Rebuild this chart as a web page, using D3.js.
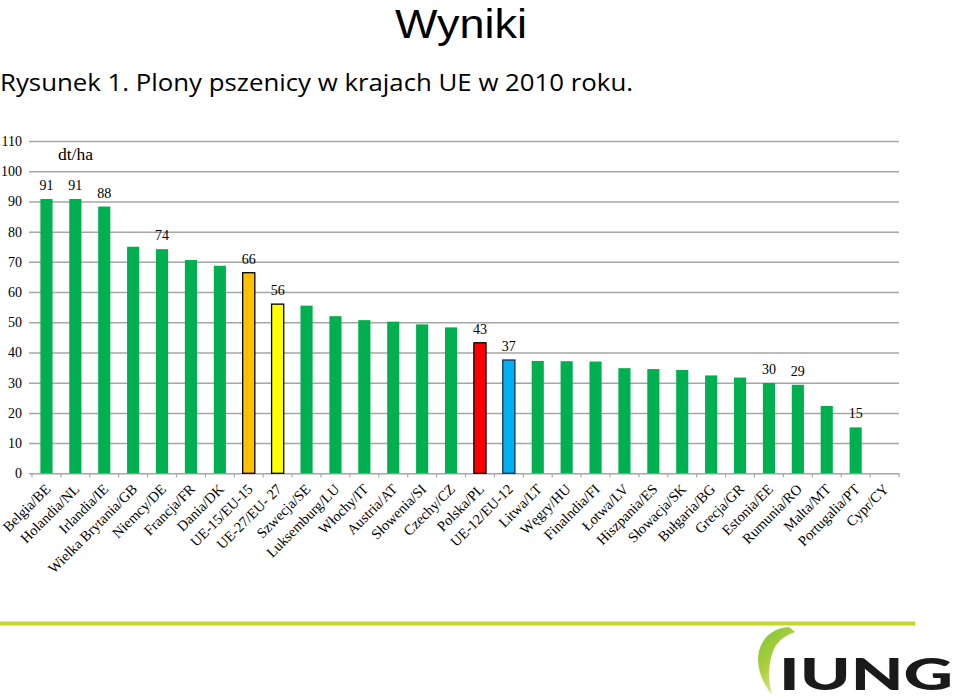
<!DOCTYPE html>
<html>
<head>
<meta charset="utf-8">
<script src="https://cdn.jsdelivr.net/npm/d3@7"></script>
<style>
  html, body { margin: 0; padding: 0; background: #ffffff; }
  svg { display: block; }
</style>
</head>
<body>
<svg id="chart" width="960" height="700"></svg>
<script>
// ---- data ----
const categories = [
  "Belgia/BE", "Holandia/NL", "Irlandia/IE", "Wielka Brytania/GB", "Niemcy/DE",
  "Francja/FR", "Dania/DK", "UE-15/EU-15", "UE-27/EU- 27", "Szwecja/SE",
  "Luksemburg/LU", "Włochy/IT", "Austria/AT", "Słowenia/SI", "Czechy/CZ",
  "Polska/PL", "UE-12/EU-12", "Litwa/LT", "Węgry/HU", "Finalndia/FI",
  "Łotwa/LV", "Hiszpania/ES", "Słowacja/SK", "Bułgaria/BG", "Grecja/GR",
  "Estonia/EE", "Rumunia/RO", "Malta/MT", "Portugalia/PT", "Cypr/CY"
];
const values = [
  90.8, 90.8, 88.3, 75.0, 74.2,
  70.6, 68.7, 66.4, 56.0, 55.5,
  52.0, 50.7, 50.2, 49.3, 48.3,
  43.2, 37.5, 37.2, 37.1, 37.0,
  34.8, 34.5, 34.2, 32.4, 31.7,
  29.9, 29.3, 22.3, 15.2, null
];
const valueLabels = [
  "91", "91", "88", "", "74",
  "", "", "66", "56", "",
  "", "", "", "", "",
  "43", "37", "", "", "",
  "", "", "", "", "",
  "30", "29", "", "15", ""
];
const yTicks = [0, 10, 20, 30, 40, 50, 60, 70, 80, 90, 100, 110];
const titleText = "Wyniki";
const subtitleText = "Rysunek 1. Plony pszenicy w krajach UE w 2010 roku.";
const unitText = "dt/ha";
const logoText = "IUNG";

// ---- styles ----
const defaultColor = "#00B050";
const highlight = {
  "UE-15/EU-15": { fill: "#FFC000", stroke: "#000000" },
  "UE-27/EU- 27": { fill: "#FFFF00", stroke: "#000000" },
  "Polska/PL": { fill: "#FF0000", stroke: "#000000" },
  "UE-12/EU-12": { fill: "#00B0F0", stroke: "#1a2f4f" }
};
const serif = "'Liberation Serif', 'Times New Roman', serif";
const sans = "'Open Sans', 'Noto Sans', sans-serif";

const svg = d3.select("#chart");

// titles
svg.append("text")
  .attr("x", 395).attr("y", 38)
  .attr("font-family", "'Liberation Sans', Arial, sans-serif").attr("font-size", 41)
  .attr("textLength", 132).attr("lengthAdjust", "spacingAndGlyphs")
  .attr("fill", "#000")
  .text(titleText);

svg.append("text")
  .attr("x", 0).attr("y", 90.5)
  .attr("font-family", sans).attr("font-size", 24)
  .attr("textLength", 633).attr("lengthAdjust", "spacingAndGlyphs")
  .attr("fill", "#000")
  .text(subtitleText);

// scales
const x0 = 32, x1 = 899;
const y = d3.scaleLinear().domain([0, 110]).range([473.3, 141]);
const x = d3.scaleBand().domain(categories).range([x0, x1])
  .paddingInner(0.58).paddingOuter(0.29);
const step = x.step();

const g = svg.append("g");

// gridlines via y axis
const yAxis = d3.axisLeft(y).tickValues(yTicks).tickSize(-(x1 - x0) - 3).tickPadding(7);
const yg = g.append("g").attr("transform", `translate(${x0 - 3},0)`).call(yAxis);
yg.select(".domain").remove();
yg.selectAll(".tick line").attr("stroke", "#a6a6a6").attr("stroke-width", 1.5);
yg.selectAll(".tick text")
  .attr("font-family", serif).attr("font-size", 14).attr("fill", "#000");

// x axis ticks (category boundaries)
const bounds = d3.range(categories.length + 1).map(i => x0 + i * step);
g.append("g").selectAll("line").data(bounds).join("line")
  .attr("x1", d => d).attr("x2", d => d)
  .attr("y1", y(0)).attr("y2", y(0) + 4)
  .attr("stroke", "#a6a6a6").attr("stroke-width", 1.2);

// bars
const data = categories.map((c, i) => ({ c, v: values[i], l: valueLabels[i] }));
g.append("g").selectAll("rect").data(data.filter(d => d.v != null)).join("rect")
  .attr("x", d => x(d.c)).attr("width", x.bandwidth())
  .attr("y", d => y(d.v)).attr("height", d => y(0) - y(d.v))
  .attr("fill", d => highlight[d.c] ? highlight[d.c].fill : defaultColor)
  .attr("stroke", d => highlight[d.c] ? highlight[d.c].stroke : "none")
  .attr("stroke-width", d => highlight[d.c] ? 1.3 : 0);

// value labels
g.append("g").selectAll("text").data(data.filter(d => d.l)).join("text")
  .attr("x", d => x(d.c) + x.bandwidth() / 2)
  .attr("y", d => y(d.v) - 9)
  .attr("text-anchor", "middle")
  .attr("font-family", serif).attr("font-size", 14).attr("fill", "#000")
  .text(d => d.l);

// unit label
g.append("text")
  .attr("x", 58).attr("y", 159.5)
  .attr("font-family", serif).attr("font-size", 16)
  .attr("textLength", 35).attr("lengthAdjust", "spacingAndGlyphs")
  .attr("fill", "#000")
  .text(unitText);

// category labels
g.append("g").selectAll("text").data(categories).join("text")
  .attr("transform", c => `translate(${x(c) + x.bandwidth() / 2 + 5},490) rotate(-45)`)
  .attr("text-anchor", "end")
  .attr("font-family", serif).attr("font-size", 14.5).attr("fill", "#000")
  .text(c => c);

// footer line
svg.append("line")
  .attr("x1", 0).attr("x2", 915).attr("y1", 623.5).attr("y2", 623.5)
  .attr("stroke", "#c3d52e").attr("stroke-width", 4);

// logo
const defs = svg.append("defs");
const grad = defs.append("linearGradient").attr("id", "leaf")
  .attr("x1", "0").attr("y1", "0").attr("x2", "0.6").attr("y2", "1");
grad.append("stop").attr("offset", "0").attr("stop-color", "#7cc242");
grad.append("stop").attr("offset", "0.5").attr("stop-color", "#a9cf3a");
grad.append("stop").attr("offset", "1").attr("stop-color", "#e4ec9a");

svg.append("path")
  .attr("d", "M772,695 C760,680 756,664 759,651 C763,636 774,628 789,627 L795,632 C786,635 779,640 775,647 C769,659 767,676 772,695 Z")
  .attr("fill", "url(#leaf)");

svg.append("text")
  .attr("x", 779).attr("y", 690)
  .attr("font-family", "Lato, 'Liberation Sans', sans-serif")
  .attr("font-weight", 900).attr("font-size", 44.5)
  .attr("textLength", 174).attr("lengthAdjust", "spacingAndGlyphs")
  .attr("fill", "#1a1a1a")
  .text(logoText);
</script>
</body>
</html>
